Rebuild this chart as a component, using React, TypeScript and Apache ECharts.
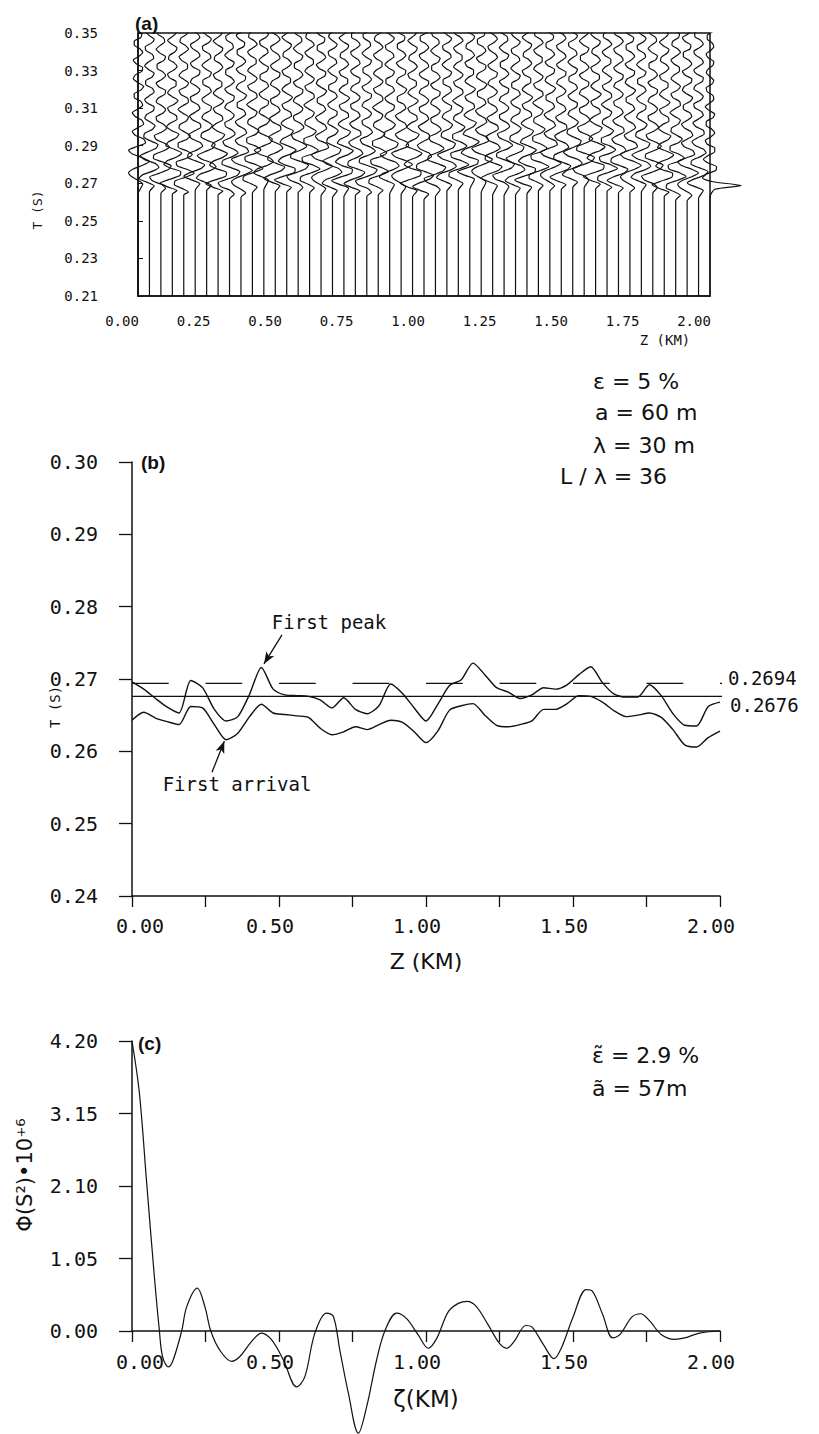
import { useEffect, useRef } from "react";
import * as echarts from "echarts";

const MONO = "'DejaVu Sans Mono', monospace";
const SANS = "'DejaVu Sans', sans-serif";
const BOLD = "'Liberation Sans', Arial, sans-serif";
const INK = "#111";

// ---- Panel (a)/(b): receiver depths (km) ----
const traceZ = [
  0.0, 0.04, 0.08, 0.12, 0.16, 0.2, 0.24, 0.28, 0.32, 0.36, 0.4, 0.44, 0.48, 0.52, 0.56, 0.6, 0.64,
  0.68, 0.72, 0.76, 0.8, 0.84, 0.88, 0.92, 0.96, 1.0, 1.04, 1.08, 1.12, 1.16, 1.2, 1.24, 1.28, 1.32,
  1.36, 1.4, 1.44, 1.48, 1.52, 1.56, 1.6, 1.64, 1.68, 1.72, 1.76, 1.8, 1.84, 1.88, 1.92, 1.96, 2.0,
];

// First peak time (s)
const firstPeakT = [
  0.2696, 0.2686, 0.2673, 0.2661, 0.2653, 0.2698, 0.2688, 0.2658, 0.2642, 0.2648, 0.2679, 0.2716,
  0.2686, 0.2678, 0.2677, 0.2676, 0.2671, 0.266, 0.2674, 0.2658, 0.2652, 0.2663, 0.2693, 0.268,
  0.266, 0.2642, 0.2665, 0.2691, 0.2699, 0.2722, 0.2706, 0.2688, 0.2682, 0.2673, 0.2678, 0.2688,
  0.2686, 0.2692, 0.2706, 0.2717, 0.2695, 0.2679, 0.2675, 0.2675, 0.2692, 0.2677, 0.2652, 0.2636,
  0.2635, 0.2662, 0.2668,
];

// First arrival time (s)
const firstArrivalT = [
  0.2643, 0.2654, 0.2646, 0.2641, 0.2637, 0.2662, 0.266, 0.2637, 0.2616, 0.2625, 0.2648, 0.2665,
  0.2653, 0.2651, 0.2649, 0.2647, 0.2632, 0.2623, 0.2627, 0.2634, 0.263, 0.2637, 0.2643, 0.264,
  0.2627, 0.2612, 0.2628, 0.2657, 0.2663, 0.2666, 0.265, 0.2636, 0.2634, 0.2637, 0.2642, 0.2658,
  0.2658, 0.2666, 0.2677, 0.2676, 0.2668, 0.2656, 0.2648, 0.265, 0.2653, 0.2647, 0.263, 0.2609,
  0.2606, 0.2619, 0.2628,
];

const meanPeakT = 0.2694;
const meanArrivalT = 0.2676;

// Coda wiggles after the first peak (in wiggle units), one every 2 ms
const codaA = [-0.3, -1.1, -0.7, 0.4, 1.0, 0.6, -0.5, -1.0, -0.2, 0.7, 0.9, 0.1, -0.6, -0.5, 0.3, 0.6, 0.1, -0.5, -0.3, 0.4, 0.5, -0.2, -0.5, 0.0, 0.5, 0.3, -0.4, -0.4, 0.3, 0.5, -0.1, -0.5, -0.1, 0.45, 0.3, -0.35, -0.45, 0.2, 0.5, 0.0, -0.4, -0.2, 0.4, 0.35, -0.3];
const codaB = [0.1, -0.9, -1.2, -0.2, 0.8, 1.1, 0.2, -0.8, -0.7, 0.3, 0.9, 0.4, -0.5, -0.7, 0.1, 0.6, 0.3, -0.4, -0.5, 0.2, 0.5, 0.1, -0.5, -0.3, 0.4, 0.5, -0.2, -0.5, 0.1, 0.5, 0.2, -0.4, -0.4, 0.3, 0.5, -0.1, -0.5, -0.1, 0.4, 0.3, -0.3, -0.4, 0.2, 0.45, 0.0];
const codaC = [-0.5, -1.3, -0.3, 0.8, 0.9, -0.2, -0.9, -0.5, 0.5, 1.0, 0.2, -0.7, -0.4, 0.4, 0.7, -0.1, -0.6, -0.2, 0.5, 0.4, -0.3, -0.5, 0.2, 0.6, 0.0, -0.5, -0.2, 0.4, 0.4, -0.3, -0.5, 0.1, 0.5, 0.2, -0.4, -0.3, 0.3, 0.5, -0.1, -0.5, 0.0, 0.4, 0.3, -0.3, -0.4];
const codaD = [0.0, -0.7, -1.0, -0.5, 0.5, 1.2, 0.5, -0.6, -1.0, -0.1, 0.8, 0.6, -0.3, -0.6, 0.0, 0.6, 0.4, -0.3, -0.6, 0.0, 0.5, 0.3, -0.4, -0.4, 0.3, 0.6, 0.0, -0.5, -0.3, 0.4, 0.5, -0.2, -0.5, 0.1, 0.5, 0.2, -0.4, -0.4, 0.3, 0.4, -0.2, -0.5, 0.1, 0.4, 0.2];
const codaE = [-0.2, -1.0, -0.9, 0.2, 1.1, 0.4, -0.7, -0.8, 0.3, 0.9, 0.3, -0.6, -0.6, 0.3, 0.7, 0.1, -0.5, -0.4, 0.3, 0.5, -0.1, -0.6, -0.1, 0.5, 0.4, -0.3, -0.5, 0.2, 0.5, 0.0, -0.5, -0.2, 0.4, 0.4, -0.2, -0.5, 0.0, 0.5, 0.2, -0.4, -0.3, 0.3, 0.4, -0.2, -0.4];
const codaF = [-0.4, -1.2, -0.5, 0.6, 1.0, 0.1, -0.8, -0.7, 0.2, 0.8, 0.5, -0.4, -0.7, -0.1, 0.6, 0.5, -0.3, -0.6, 0.0, 0.5, 0.3, -0.4, -0.5, 0.2, 0.5, 0.1, -0.5, -0.3, 0.4, 0.5, -0.2, -0.5, 0.0, 0.5, 0.3, -0.3, -0.5, 0.1, 0.5, 0.2, -0.4, -0.4, 0.3, 0.4, -0.1];
const codaG = [3.3, 0.3, -0.8, -0.4, 0.6, 0.7, -0.2, -0.7, -0.2, 0.5, 0.5, -0.3, -0.5, 0.1, 0.5, 0.2, -0.4, -0.4, 0.3, 0.5, -0.1, -0.5, 0.0, 0.4, 0.3, -0.3, -0.4, 0.2, 0.4, 0.0, -0.4, -0.2, 0.3, 0.4, -0.2, -0.4, 0.1, 0.4, 0.2, -0.3, -0.3, 0.3, 0.3, -0.2, -0.3];
const codaPatterns = [codaA, codaB, codaC, codaD, codaE, codaF, codaG];
const tracePattern = [
  3, 0, 1, 2, 4, 5, 0, 2, 1, 3, 4, 0, 5, 2, 1, 4, 3, 0, 2, 5, 1, 4, 0, 3, 2, 5, 1, 0, 4, 2, 3, 5, 1, 0,
  2, 4, 3, 5, 0, 1, 2, 4, 5, 3, 0, 1, 2, 4, 3, 5, 6,
];
const wiggleUnit = 0.033;
const peakSwing = 0.5;
const sampleStep = 0.002;
const timeMinA = 0.21;

// ---- Panel (c): autocorrelation ----
const lagKm = [
  0, 0.025, 0.05, 0.075, 0.093, 0.104, 0.124, 0.14, 0.169, 0.186, 0.222, 0.248, 0.268, 0.299, 0.339,
  0.367, 0.407, 0.441, 0.475, 0.515, 0.56, 0.588, 0.622, 0.662, 0.685, 0.707, 0.736, 0.77, 0.798,
  0.832, 0.861, 0.9, 0.934, 0.974, 1.008, 1.036, 1.076, 1.11, 1.14, 1.17, 1.21, 1.25, 1.275, 1.3,
  1.34, 1.36, 1.4, 1.435, 1.46, 1.5, 1.545, 1.565, 1.6, 1.635, 1.66, 1.7, 1.73, 1.76, 1.8, 1.845,
  1.88, 1.93, 2.0,
];
const phiVal = [
  4.2, 3.45, 2.14, 0.84, 0.01, -0.37, -0.52, -0.42, 0.0, 0.35, 0.62, 0.35, 0.0, -0.28, -0.44, -0.37,
  -0.15, -0.03, -0.13, -0.42, -0.81, -0.66, -0.03, 0.26, 0.21, -0.28, -0.9, -1.48, -1.1, -0.42, 0.01,
  0.26, 0.18, -0.06, -0.25, -0.11, 0.28, 0.4, 0.43, 0.36, 0.1, -0.18, -0.25, -0.15, 0.08, 0.06, -0.2,
  -0.4, -0.25, 0.2, 0.6, 0.58, 0.25, -0.1, -0.05, 0.2, 0.25, 0.15, -0.05, -0.12, -0.1, -0.03, 0.0,
];

const meanLineEnd = 2.04;

function buildTrace(i: number): number[][] {
  const z = traceZ[i];
  const pts: number[][] = [
    [z, timeMinA],
    [z, firstArrivalT[i]],
    [z + peakSwing * wiggleUnit, firstPeakT[i]],
  ];
  codaPatterns[tracePattern[i]].forEach((a, j) => {
    pts.push([z + a * wiggleUnit, firstPeakT[i] + (j + 1) * sampleStep]);
  });
  return pts;
}

const axisLineStyle = { color: INK, width: 1.5 };

function bottomLabel(margin: number) {
  return {
    margin,
    color: INK,
    formatter: (v: number) => (v === 0 ? `{f|${v.toFixed(2)}}` : `{r|${v.toFixed(2)}}`),
    rich: {
      f: { fontSize: 20, fontFamily: MONO, color: INK, padding: [0, 0, 0, 16] },
      r: { fontSize: 20, fontFamily: MONO, color: INK, padding: [0, 18, 0, 0] },
    },
  };
}

function txt(
  text: string,
  x: number,
  y: number,
  size: number,
  family: string,
  align = "left",
  opts: Record<string, unknown> = {}
) {
  return {
    type: "text",
    x,
    y,
    silent: true,
    ...opts,
    style: {
      text,
      fontSize: size,
      fontFamily: family,
      fontWeight: (opts as any).weight || "normal",
      fill: INK,
      textAlign: align,
      align,
      textVerticalAlign: "middle",
      verticalAlign: "middle",
    },
  };
}

export default function App() {
  const ref = useRef<HTMLDivElement>(null);
  useEffect(() => {
    if (!ref.current) return;
    const chart = echarts.init(ref.current, undefined, { renderer: "svg" });

    const traceSeries = traceZ.map((_, i) => ({
      type: "line",
      xAxisIndex: 0,
      yAxisIndex: 0,
      data: buildTrace(i),
      showSymbol: false,
      symbol: "none",
      smooth: 0.2,
      silent: true,
      lineStyle: { color: INK, width: 1.2 },
      z: 3,
    }));

    const option: any = {
      animation: false,
      backgroundColor: "#fff",
      grid: [
        { left: 80.8, top: 33, width: 686.4, height: 263 },
        { left: 138, top: 33, width: 572, height: 263, show: true, borderColor: INK, borderWidth: 1.5 },
        { left: 132, top: 462, width: 588, height: 434 },
        { left: 132, top: 1041, width: 588, height: 290 },
      ],
      xAxis: [
        { gridIndex: 0, type: "value", min: -0.2, max: 2.2, show: false },
        {
          gridIndex: 1,
          type: "value",
          min: 0,
          max: 2,
          interval: 0.25,
          axisLine: { show: true, lineStyle: axisLineStyle },
          axisTick: { show: false },
          splitLine: { show: false },
          axisLabel: {
            margin: 18,
            fontSize: 14,
            fontFamily: MONO,
            color: INK,
            padding: [0, 32, 0, 0],
            formatter: (v: number) => v.toFixed(2),
          },
        },
        {
          gridIndex: 2,
          type: "value",
          min: 0,
          max: 2,
          interval: 0.5,
          axisLine: { show: true, lineStyle: axisLineStyle },
          axisTick: { show: true, length: 11, lineStyle: { color: INK, width: 1.3 } },
          minorTick: { show: true, splitNumber: 2, length: 11, lineStyle: { color: INK, width: 1.3 } },
          splitLine: { show: false },
          axisLabel: bottomLabel(20),
          name: "Z (KM)",
          nameLocation: "middle",
          nameGap: 54,
          nameTextStyle: { fontSize: 22, fontFamily: SANS, color: INK },
        },
        {
          gridIndex: 3,
          type: "value",
          min: 0,
          max: 2,
          interval: 0.5,
          axisLine: { show: true, lineStyle: axisLineStyle },
          axisTick: { show: true, length: 11, lineStyle: { color: INK, width: 1.3 } },
          minorTick: { show: true, splitNumber: 2, length: 11, lineStyle: { color: INK, width: 1.3 } },
          splitLine: { show: false },
          axisLabel: bottomLabel(21),
          name: "ζ(KM)",
          nameLocation: "middle",
          nameGap: 56,
          nameTextStyle: { fontSize: 23, fontFamily: SANS, color: INK },
        },
      ],
      yAxis: [
        { gridIndex: 0, type: "value", min: 0.21, max: 0.35, show: false },
        {
          gridIndex: 1,
          type: "value",
          min: 0.21,
          max: 0.35,
          interval: 0.02,
          axisLine: { show: true, lineStyle: axisLineStyle },
          axisTick: { show: true, inside: true, length: 5, lineStyle: { color: INK } },
          splitLine: { show: false },
          axisLabel: { margin: 40, fontSize: 14, fontFamily: MONO, color: INK, formatter: (v: number) => v.toFixed(2) },
        },
        {
          gridIndex: 2,
          type: "value",
          min: 0.24,
          max: 0.3,
          interval: 0.01,
          axisLine: { show: true, lineStyle: axisLineStyle },
          axisTick: { show: true, length: 13, lineStyle: { color: INK, width: 1.3 } },
          splitLine: { show: false },
          axisLabel: { margin: 34, fontSize: 20, fontFamily: MONO, color: INK, formatter: (v: number) => v.toFixed(2) },
        },
        {
          gridIndex: 3,
          type: "value",
          min: 0,
          max: 4.2,
          interval: 1.05,
          axisLine: { show: true, lineStyle: axisLineStyle },
          axisTick: { show: true, length: 13, lineStyle: { color: INK, width: 1.3 } },
          splitLine: { show: false },
          axisLabel: { margin: 34, fontSize: 20, fontFamily: MONO, color: INK, formatter: (v: number) => v.toFixed(2) },
        },
      ],
      series: [
        ...traceSeries,
        {
          name: "First peak",
          type: "line",
          xAxisIndex: 2,
          yAxisIndex: 2,
          data: traceZ.map((z, i) => [z, firstPeakT[i]]),
          showSymbol: false,
          symbol: "none",
          smooth: 0.25,
          lineStyle: { color: INK, width: 1.4 },
          markLine: {
            silent: true,
            symbol: ["none", "arrow"],
            symbolSize: [7, 12],
            label: { show: false },
            lineStyle: { type: "solid", color: INK, width: 1.3 },
            data: [[{ coord: [0.51, 0.2761] }, { coord: [0.449, 0.2721] }]],
          },
        },
        {
          name: "First arrival",
          type: "line",
          xAxisIndex: 2,
          yAxisIndex: 2,
          data: traceZ.map((z, i) => [z, firstArrivalT[i]]),
          showSymbol: false,
          symbol: "none",
          smooth: 0.25,
          lineStyle: { color: INK, width: 1.4 },
          markLine: {
            silent: true,
            symbol: ["none", "arrow"],
            symbolSize: [7, 12],
            label: { show: false },
            lineStyle: { type: "solid", color: INK, width: 1.3 },
            data: [[{ coord: [0.272, 0.2571] }, { coord: [0.314, 0.2614] }]],
          },
        },
        {
          name: "Mean first peak",
          type: "line",
          xAxisIndex: 2,
          yAxisIndex: 2,
          clip: false,
          data: [
            [0, meanPeakT],
            [meanLineEnd, meanPeakT],
          ],
          showSymbol: false,
          symbol: "none",
          lineStyle: { color: INK, width: 1.4, type: [36.75, 36.75] },
          endLabel: {
            show: true,
            formatter: () => meanPeakT.toFixed(4),
            offset: [-2, -5],
            fontSize: 19,
            fontFamily: MONO,
            color: INK,
          },
        },
        {
          name: "Mean first arrival",
          type: "line",
          xAxisIndex: 2,
          yAxisIndex: 2,
          clip: false,
          data: [
            [0, meanArrivalT],
            [meanLineEnd, meanArrivalT],
          ],
          showSymbol: false,
          symbol: "none",
          lineStyle: { color: INK, width: 1.4 },
          endLabel: {
            show: true,
            formatter: () => meanArrivalT.toFixed(4),
            offset: [0, 9],
            fontSize: 19,
            fontFamily: MONO,
            color: INK,
          },
        },
        {
          name: "Autocorrelation",
          type: "line",
          xAxisIndex: 3,
          yAxisIndex: 3,
          clip: false,
          data: lagKm.map((l, i) => [l, phiVal[i]]),
          showSymbol: false,
          symbol: "none",
          smooth: 0.35,
          lineStyle: { color: INK, width: 1.2 },
        },
      ],
      graphic: [
        txt("(a)", 135, 23, 19, BOLD, "left", { weight: "bold" }),
        txt("(b)", 141, 462, 19, BOLD, "left", { weight: "bold" }),
        txt("(c)", 138, 1043, 19, BOLD, "left", { weight: "bold" }),
        txt("T (S)", 37, 210, 13, MONO, "center", { rotation: Math.PI / 2 }),
        txt("Z (KM)", 665, 340, 14, MONO, "center"),
        txt("ε = 5 %", 593, 381, 22, SANS),
        txt("a = 60 m", 595, 412, 22, SANS),
        txt("λ = 30 m", 593, 445, 22, SANS),
        txt("L / λ = 36", 560, 476, 22, SANS),
        txt("T (S)", 55, 707, 14, MONO, "center", { rotation: Math.PI / 2 }),
        txt("First peak", 329, 622, 19, MONO, "center"),
        txt("First arrival", 237, 784, 19, MONO, "center"),
        txt("Φ(S²)•10⁺⁶", 25, 1175, 21, SANS, "center", { rotation: Math.PI / 2 }),
        txt("ε̃ = 2.9 %", 592, 1055, 22, SANS),
        txt("ã = 57m", 592, 1088, 22, SANS),
      ],
    };
    chart.setOption(option);
    return () => chart.dispose();
  }, []);
  return (
    <div
      ref={ref}
      style={{ position: "absolute", left: 0, top: 0, width: 819, height: 1434, background: "#fff" }}
    />
  );
}
